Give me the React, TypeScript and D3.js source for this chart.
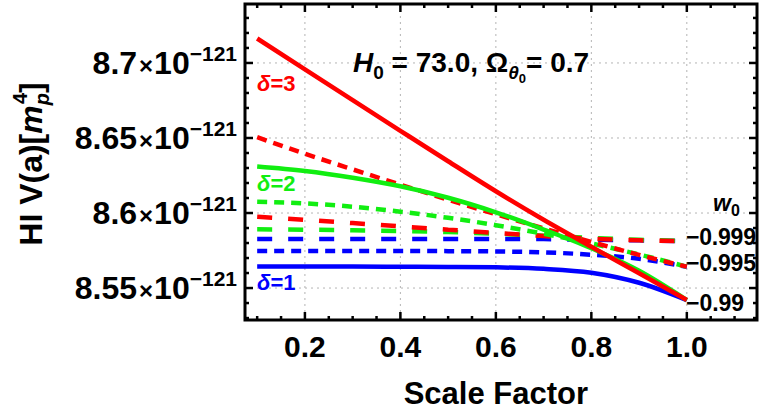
//@ts-nocheck
import React, { useRef, useEffect } from 'react'
import * as d3 from 'd3'

// scale factor samples
const scaleFactor = [0.1, 0.2, 0.3, 0.4, 0.5, 0.6, 0.7, 0.8, 0.9, 1.0]

// potential values in units of 1e-121 m_p^4
// w0 = -0.99 (solid)
const d1w99 = [8.5643, 8.5643, 8.5643, 8.5642, 8.5641, 8.5638, 8.5628, 8.5602, 8.5535, 8.542]
const d2w99 = [8.631, 8.628, 8.6235, 8.6178, 8.6102, 8.6005, 8.589, 8.5765, 8.5615, 8.542]
const d3w99 = [8.7163, 8.6957, 8.6752, 8.6548, 8.6345, 8.6145, 8.5955, 8.5775, 8.5598, 8.542]
// w0 = -0.995 (short dashes)
const d1w995 = [8.5747, 8.5747, 8.5747, 8.5747, 8.5746, 8.5744, 8.5738, 8.5722, 8.5695, 8.5642]
const d2w995 = [8.6075, 8.6064, 8.6042, 8.6009, 8.5968, 8.5919, 8.5862, 8.5797, 8.5724, 8.5642]
const d3w995 = [8.6505, 8.6395, 8.6291, 8.6189, 8.6089, 8.5992, 8.5898, 8.5807, 8.5721, 8.5642]
// w0 = -0.999 (long dashes)
const d1w999 = [8.5827, 8.5827, 8.5827, 8.5827, 8.5827, 8.5827, 8.5826, 8.5822, 8.5818, 8.5813]
const d2w999 = [8.5891, 8.5889, 8.5885, 8.588, 8.5873, 8.5862, 8.5849, 8.5834, 8.5822, 8.5813]
const d3w999 = [8.5975, 8.5955, 8.5933, 8.5911, 8.5889, 8.5867, 8.5847, 8.5829, 8.5818, 8.5813]

const xTicks = [0.2, 0.4, 0.6, 0.8, 1.0]
const yTicks = [8.55, 8.6, 8.65, 8.7]
const yTickLabels = ['8.55', '8.6', '8.65', '8.7']
const w0Labels = ['\u22120.999', '\u22120.995', '\u22120.99']
const w0LabelValues = [8.584, 8.5667, 8.54]

const RED = '#ff0000'
const GREEN = '#11ee11'
const BLUE = '#0000ff'

const series = [
  { values: d1w999, color: BLUE, dash: '15,16' },
  { values: d2w999, color: GREEN, dash: '15,16' },
  { values: d3w999, color: RED, dash: '15,16' },
  { values: d1w995, color: BLUE, dash: '10,7' },
  { values: d2w995, color: GREEN, dash: '10,7' },
  { values: d3w995, color: RED, dash: '10,7' },
  { values: d1w99, color: BLUE, dash: null },
  { values: d2w99, color: GREEN, dash: null },
  { values: d3w99, color: RED, dash: null }
]

const FONT = '"Liberation Sans", Arial, sans-serif'

const App = () => {
  const node = useRef(null)
  const width = 763
  const height = 411

  useEffect(() => {
    const svg = d3.select(node.current)
    svg.selectAll('*').remove()

    const left = 245
    const right = 757
    const top = 4
    const bottom = 320

    const x = d3.scaleLinear().domain([0.0745, 1.147]).range([left, right])
    const y = d3.scaleLinear().domain([8.5287, 8.7393]).range([bottom, top])

    svg.append('rect').attr('width', width).attr('height', height).attr('fill', '#fff')

    // grid
    const grid = svg.append('g').attr('stroke', '#b4b4b4').attr('stroke-width', 1).attr('stroke-dasharray', '2,4')
    xTicks.forEach((t) => {
      grid.append('line').attr('x1', x(t)).attr('x2', x(t)).attr('y1', top).attr('y2', bottom)
    })
    yTicks.forEach((t) => {
      grid.append('line').attr('x1', left).attr('x2', right).attr('y1', y(t)).attr('y2', y(t))
    })

    // curves
    const line = d3
      .line()
      .curve(d3.curveMonotoneX)
      .x((d) => x(d[0]))
      .y((d) => y(d[1]))

    const plot = svg.append('g')
    series.forEach((s) => {
      plot
        .append('path')
        .attr('d', line(scaleFactor.map((a, i) => [a, s.values[i]])))
        .attr('fill', 'none')
        .attr('stroke', s.color)
        .attr('stroke-width', 4.5)
        .attr('stroke-dasharray', s.dash)
    })

    // frame ticks
    const ticks = svg.append('g').attr('stroke', '#000').attr('stroke-width', 2.5)
    const xMinor = d3.range(0.1, 1.15, 0.05).filter((v) => v > x.domain()[0] && v < x.domain()[1])
    xMinor.forEach((v) => {
      const major = xTicks.some((t) => Math.abs(t - v) < 1e-6)
      const len = major ? 8 : 4
      ticks.append('line').attr('x1', x(v)).attr('x2', x(v)).attr('y1', bottom).attr('y2', bottom - len)
      ticks.append('line').attr('x1', x(v)).attr('x2', x(v)).attr('y1', top).attr('y2', top + len)
    })
    const yMinor = d3.range(8.53, 8.74, 0.01).filter((v) => v > y.domain()[0] && v < y.domain()[1])
    yMinor.forEach((v) => {
      const major = yTicks.some((t) => Math.abs(t - v) < 1e-6)
      const len = major ? 8 : 4
      ticks.append('line').attr('x1', left).attr('x2', left + len).attr('y1', y(v)).attr('y2', y(v))
      ticks.append('line').attr('x1', right).attr('x2', right - len).attr('y1', y(v)).attr('y2', y(v))
    })

    svg
      .append('rect')
      .attr('x', left)
      .attr('y', top)
      .attr('width', right - left)
      .attr('height', bottom - top)
      .attr('fill', 'none')
      .attr('stroke', '#000')
      .attr('stroke-width', 3)

    const text = svg.append('g').attr('font-family', FONT).attr('font-weight', 'bold')

    // x tick labels
    xTicks.forEach((t) => {
      text
        .append('text')
        .attr('x', x(t))
        .attr('y', 357)
        .attr('text-anchor', 'middle')
        .attr('font-size', 30)
        .text(t.toFixed(1))
    })

    // y tick labels
    yTicks.forEach((t, i) => {
      const tx = text
        .append('text')
        .attr('x', 237)
        .attr('y', y(t) + 11)
        .attr('text-anchor', 'end')
        .attr('font-size', 32)
      tx.append('tspan').text(yTickLabels[i])
      tx.append('tspan').attr('font-size', 24).attr('dx', 2).text('\u00d7')
      tx.append('tspan').attr('dx', 1).text('10')
      tx.append('tspan').attr('font-size', 21).attr('dy', -13).text('\u2212121')
    })

    // axis titles
    text
      .append('text')
      .attr('x', x(0.6))
      .attr('y', 404)
      .attr('text-anchor', 'middle')
      .attr('font-size', 31)
      .text('Scale Factor')

    const yt = text
      .append('text')
      .attr('transform', 'translate(42,164) rotate(-90)')
      .attr('text-anchor', 'middle')
      .attr('font-size', 32)
    yt.append('tspan').text('HI V(a)[')
    yt.append('tspan').attr('font-style', 'italic').text('m')
    yt.append('tspan').attr('font-style', 'italic').attr('font-size', 20).attr('dy', 7).text('p')
    yt.append('tspan').attr('font-size', 20).attr('dx', -11).attr('dy', -22).text('4')
    yt.append('tspan').attr('dy', 15).text(']')

    // annotation
    const ann = text.append('text').attr('x', 353).attr('y', 72).attr('font-size', 28)
    ann.append('tspan').attr('font-style', 'italic').text('H')
    ann.append('tspan').attr('font-size', 19).attr('dy', 7).text('0')
    ann.append('tspan').attr('dy', -7).text(' = 73.0, \u03a9')
    ann.append('tspan').attr('font-size', 19).attr('font-style', 'italic').attr('dy', 7).text('\u03b8')
    ann.append('tspan').attr('font-size', 13).attr('dy', 4).text('0')
    ann.append('tspan').attr('dy', -11).text('= 0.7')

    // delta labels
    const deltas = [
      { label: '3', color: RED, v: 8.681 },
      { label: '2', color: GREEN, v: 8.6145 },
      { label: '1', color: BLUE, v: 8.5487 }
    ]
    deltas.forEach((d) => {
      const t = text
        .append('text')
        .attr('x', 257)
        .attr('y', y(d.v))
        .attr('font-size', 22)
        .attr('fill', d.color)
      t.append('tspan').attr('font-style', 'italic').text('\u03b4')
      t.append('tspan').text('=' + d.label)
    })

    // w0 legend
    const wl = text.append('text').attr('x', 713).attr('y', 211).attr('font-size', 23)
    wl.append('tspan').attr('font-style', 'italic').text('w')
    wl.append('tspan').attr('font-size', 16).attr('dy', 5).text('0')
    w0Labels.forEach((l, i) => {
      text
        .append('text')
        .attr('x', 686)
        .attr('y', y(w0LabelValues[i]) + 8)
        .attr('font-size', 23)
        .attr('textLength', l.length > 5 ? 70 : 58)
        .text(l)
    })
  }, [node])

  return <svg ref={node} width={width} height={height} style={{ position: 'absolute', left: 0, top: 0 }} />
}

export default App
